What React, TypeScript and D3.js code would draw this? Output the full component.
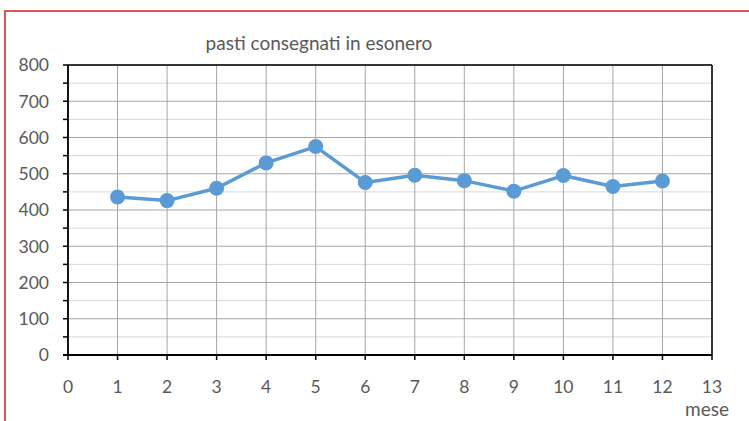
import React from "react";
import * as d3 from "d3";

const months = [1, 2, 3, 4, 5, 6, 7, 8, 9, 10, 11, 12];
const pasti = [436, 426, 460, 530, 575, 476, 496, 481, 452, 495, 465, 480];
const xTicks = d3.range(0, 14);
const yMajor = d3.range(0, 801, 100);
const yMinor = d3.range(50, 800, 100);
const title = "pasti consegnati in esonero";
const xTitle = "mese";

export default function App() {
  const W = 749, H = 421;
  const x = d3.scaleLinear().domain([0, 13]).range([68, 712]);
  const y = d3.scaleLinear().domain([0, 800]).range([355, 65]);
  const line = d3.line<number>().x((_, i) => x(months[i])).y((d) => y(d));
  const font = "Lato, 'Open Sans', sans-serif";
  const gray = "#595959";
  return (
    <svg width={W} height={H} style={{ position: "absolute", left: 0, top: 0 }} fontFamily={font}>
      <rect x={0} y={0} width={W} height={H} fill="#fff" />
      <rect x={5} y={11} width={900} height={600} fill="#fff" stroke="#d03030" strokeWidth={1.6} />
      <text x={319} y={50} textAnchor="middle" fontSize={19} fill={gray}>{title}</text>
      {yMinor.map((v) => (
        <line key={"mn" + v} x1={x(0)} x2={x(13)} y1={y(v)} y2={y(v)} stroke="#d9d9d9" strokeWidth={1} />
      ))}
      {yMajor.map((v) => (
        <line key={"mj" + v} x1={x(0)} x2={x(13)} y1={y(v)} y2={y(v)} stroke="#a6a6a6" strokeWidth={1} />
      ))}
      {xTicks.map((v) => (
        <line key={"vx" + v} x1={x(v)} x2={x(v)} y1={y(0)} y2={y(800)} stroke="#a6a6a6" strokeWidth={1} />
      ))}
      <line x1={x(0)} x2={x(13)} y1={y(800)} y2={y(800)} stroke="#000" strokeWidth={1.5} />
      <line x1={x(13)} x2={x(13)} y1={y(0)} y2={y(800)} stroke="#000" strokeWidth={1.5} />
      <line x1={x(0)} x2={x(0)} y1={y(0)} y2={y(800)} stroke="#000" strokeWidth={1.8} />
      <line x1={x(0) - 5} x2={x(13)} y1={y(0)} y2={y(0)} stroke="#000" strokeWidth={1.8} />
      {yMajor.concat(yMinor).map((v) => (
        <line key={"yt" + v} x1={x(0) - 5} x2={x(0)} y1={y(v)} y2={y(v)} stroke="#000" strokeWidth={1.5} />
      ))}
      {xTicks.map((v) => (
        <line key={"xt" + v} x1={x(v)} x2={x(v)} y1={y(0)} y2={y(0) + 5} stroke="#000" strokeWidth={1.5} />
      ))}
      {yMajor.map((v) => (
        <text key={"yl" + v} x={49} y={y(v) + 6.3} textAnchor="end" fontSize={17.5} fill={gray}>{v}</text>
      ))}
      {xTicks.map((v) => (
        <text key={"xl" + v} x={x(v)} y={392.5} textAnchor="middle" fontSize={17.5} fill={gray}>{v}</text>
      ))}
      <text x={707} y={416} textAnchor="middle" fontSize={19} fill={gray}>{xTitle}</text>
      <path d={line(pasti) || ""} fill="none" stroke="#5b9bd5" strokeWidth={3.5} strokeLinejoin="round" />
      {pasti.map((v, i) => (
        <circle key={"p" + i} cx={x(months[i])} cy={y(v)} r={7.5} fill="#5b9bd5" />
      ))}
    </svg>
  );
}
